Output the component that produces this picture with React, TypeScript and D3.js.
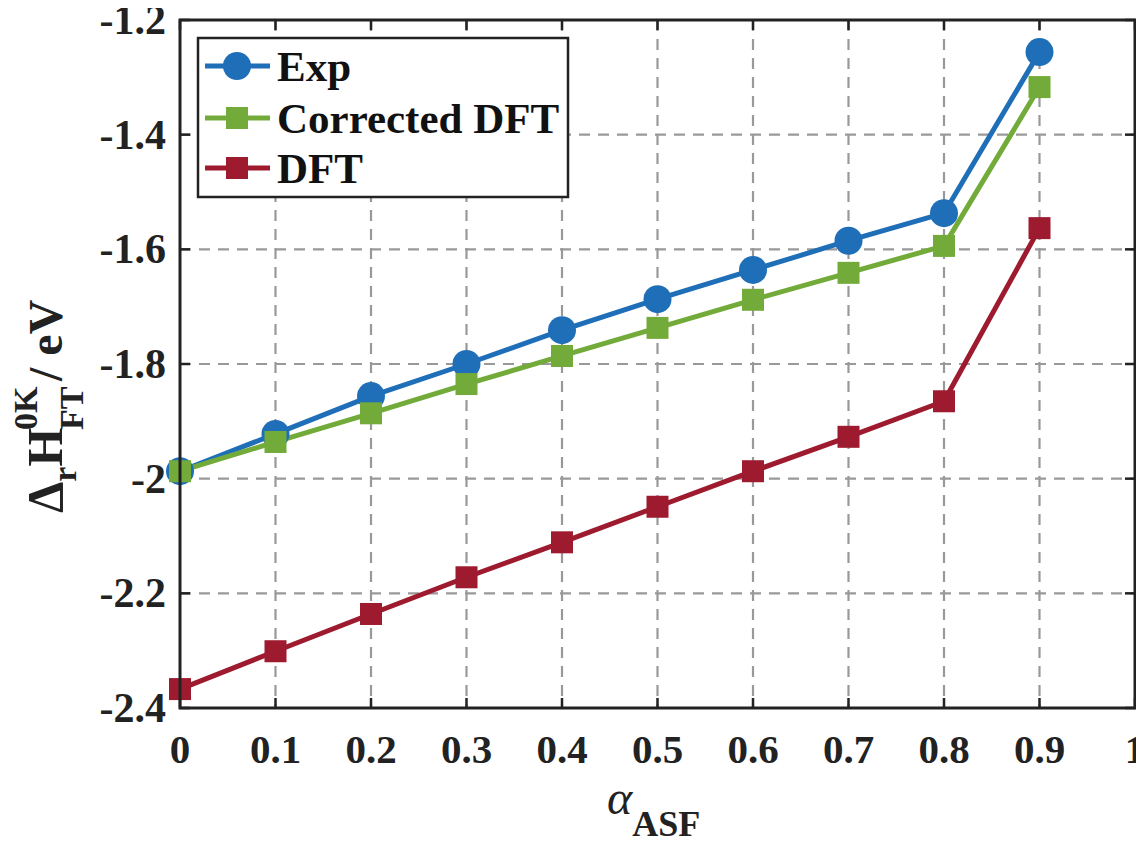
import React from "react";
import * as d3 from "d3";

const alpha = [0, 0.1, 0.2, 0.3, 0.4, 0.5, 0.6, 0.7, 0.8, 0.9];
const expVals = [-1.987, -1.922, -1.856, -1.800, -1.741, -1.687, -1.636, -1.585, -1.537, -1.256];
const corrVals = [-1.987, -1.936, -1.886, -1.835, -1.786, -1.737, -1.688, -1.641, -1.594, -1.317];
const dftVals = [-2.367, -2.301, -2.236, -2.172, -2.111, -2.049, -1.987, -1.927, -1.865, -1.563];
const xTicks = [0, 0.1, 0.2, 0.3, 0.4, 0.5, 0.6, 0.7, 0.8, 0.9, 1];
const yTicks = [-1.2, -1.4, -1.6, -1.8, -2, -2.2, -2.4];

const series = [
  { name: "Exp", values: expVals, color: "#1f6fb8", marker: "circle" },
  { name: "Corrected DFT", values: corrVals, color: "#72ab3a", marker: "square" },
  { name: "DFT", values: dftVals, color: "#9e1a2e", marker: "square" },
];

const W = 1144, H = 835;
const OX = -8, OY = -8;
const L = 180 + OX, R = 1135 + OX, T = 20 + OY, B = 708 + OY;
const FONT = "Times New Roman";

export default function App() {
  const x = d3.scaleLinear().domain([0, 1]).range([L, R]);
  const y = d3.scaleLinear().domain([-2.4, -1.2]).range([B, T]);
  const line = d3.line<number>().x((_, i) => x(alpha[i])).y((v) => y(v));
  const fmt = (v: number) => String(v);

  const marker = (kind: string, cx: number, cy: number, color: string, key: any) =>
    kind === "circle" ? (
      <circle key={key} cx={cx} cy={cy} r={14} fill={color} />
    ) : (
      <rect key={key} x={cx - 11} y={cy - 11} width={22} height={22} fill={color} />
    );

  return (
    <svg width={W} height={H}>
      {xTicks.slice(1, -1).map((t) => (
        <line key={"gx" + t} x1={x(t)} x2={x(t)} y1={T} y2={B} stroke="#999" strokeWidth={2.2} strokeDasharray="11,8" />
      ))}
      {yTicks.slice(1, -1).map((t) => (
        <line key={"gy" + t} x1={L} x2={R} y1={y(t)} y2={y(t)} stroke="#999" strokeWidth={2.2} strokeDasharray="11,8" />
      ))}
      {xTicks.map((t) => (
        <line key={"tkx" + t} x1={x(t)} x2={x(t)} y1={B} y2={B - 10} stroke="#222" strokeWidth={2.5} />
      ))}
      {xTicks.map((t) => (
        <line key={"tkx2" + t} x1={x(t)} x2={x(t)} y1={T} y2={T + 10} stroke="#222" strokeWidth={2.5} />
      ))}
      {yTicks.map((t) => (
        <line key={"tky" + t} x1={L} x2={L + 10} y1={y(t)} y2={y(t)} stroke="#222" strokeWidth={2.5} />
      ))}
      {yTicks.map((t) => (
        <line key={"tky2" + t} x1={R} x2={R - 10} y1={y(t)} y2={y(t)} stroke="#222" strokeWidth={2.5} />
      ))}
      {xTicks.map((t) => (
        <text key={"lx" + t} x={x(t)} y={B + 55} textAnchor="middle" fontSize={41} fontWeight="bold" fontFamily={FONT} fill="#222">{fmt(t)}</text>
      ))}
      {yTicks.map((t) => (
        <text key={"ly" + t} x={L - 14} y={y(t) + 14} textAnchor="end" fontSize={42} fontWeight="bold" fontFamily={FONT} fill="#222">{fmt(t)}</text>
      ))}
      {series.map((s) => (
        <path key={"p" + s.name} d={line(s.values) || ""} fill="none" stroke={s.color} strokeWidth={5} strokeLinejoin="round" />
      ))}
      {series.map((s) => s.values.map((v, i) => marker(s.marker, x(alpha[i]), y(v), s.color, s.name + i)))}
      <rect x={L} y={T} width={R - L} height={B - T} fill="none" stroke="#222" strokeWidth={3} />
      <rect x={198 + OX} y={38 + OY} width={370} height={159} fill="#fff" stroke="#222" strokeWidth={2.5} />
      {series.map((s, i) => {
        const cy = [66, 118, 168][i] + OY;
        return (
          <g key={"lg" + s.name}>
            <line x1={205 + OX} x2={270 + OX} y1={cy} y2={cy} stroke={s.color} strokeWidth={5} />
            {marker(s.marker, 237 + OX, cy, s.color, "m")}
            <text x={277 + OX} y={cy + 15} fontSize={43} fontWeight="bold" fontFamily={FONT} fill="#111">{s.name}</text>
          </g>
        );
      })}
      <g transform={`translate(${62 + OX}, ${378 + OY}) rotate(-90)`}>
        <text x={-135} y={0} fontSize={50} fontWeight="bold" fontFamily={FONT} fill="#222">
          <tspan>Δ</tspan>
          <tspan fontSize={34} dy={14}>r</tspan>
          <tspan dy={-14}>H</tspan>
        </text>
        <text x={-52} y={-25} fontSize={34} fontWeight="bold" fontFamily={FONT} fill="#222">0K</text>
        <text x={-52} y={21} fontSize={34} fontWeight="bold" fontFamily={FONT} fill="#222">FT</text>
        <text x={-3} y={0} fontSize={48} fontWeight="bold" fontFamily={FONT} fill="#222">/ eV</text>
      </g>
      <text x={607 + OX} y={814 + OY} fontSize={48} fontFamily={FONT} fill="#222">
        <tspan fontStyle="italic">α</tspan>
        <tspan fontSize={36} fontWeight="bold" dy={22}>ASF</tspan>
      </text>
    </svg>
  );
}
